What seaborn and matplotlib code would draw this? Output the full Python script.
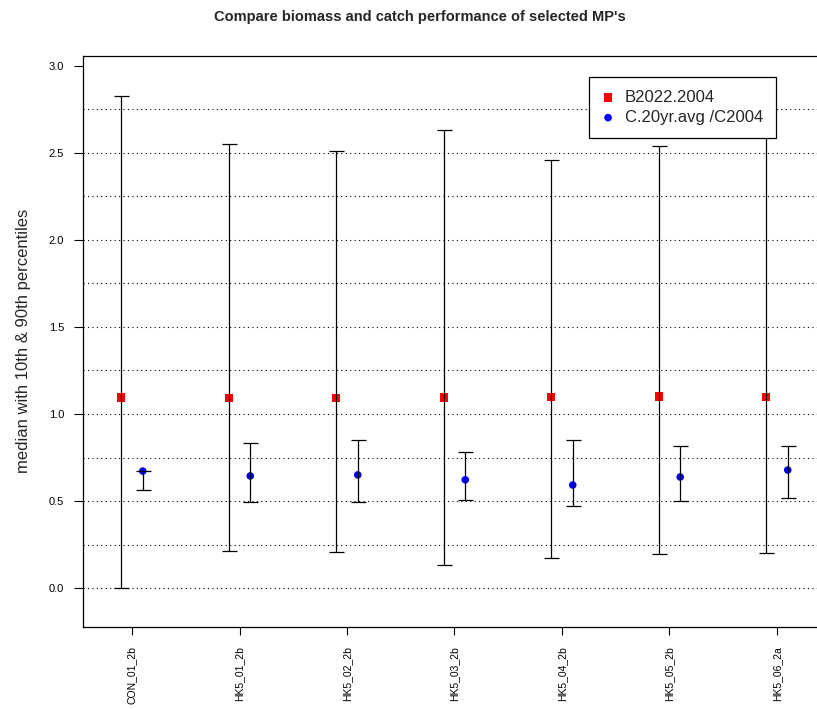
import numpy as np
import pandas as pd
import matplotlib
matplotlib.use("Agg")
import matplotlib.pyplot as plt
import seaborn as sns

# ---- data ----
mps = ["CON_01_2b", "HK5_01_2b", "HK5_02_2b", "HK5_03_2b", "HK5_04_2b", "HK5_05_2b", "HK5_06_2a"]

bio_med = [1.095, 1.093, 1.093, 1.095, 1.097, 1.100, 1.097]
bio_p10 = [0.00, 0.21, 0.205, 0.13, 0.17, 0.195, 0.20]
bio_p90 = [2.83, 2.55, 2.51, 2.63, 2.46, 2.54, 2.61]

cat_med = [0.672, 0.644, 0.650, 0.622, 0.592, 0.638, 0.678]
cat_p10 = [0.565, 0.495, 0.495, 0.504, 0.474, 0.498, 0.519]
cat_p90 = [0.675, 0.833, 0.850, 0.784, 0.853, 0.816, 0.816]

series_names = ["B2022.2004", "C.20yr.avg /C2004"]
title = "Compare biomass and catch performance of selected MP's"
ylabel = "median with 10th & 90th percentiles"

sns.set_theme(style="white")
plt.rcParams["font.family"] = ["Liberation Sans", "DejaVu Sans"]

idx = np.arange(1, len(mps) + 1)
df_b = pd.DataFrame({"pos": idx - 0.1, "med": bio_med, "lo": bio_p10, "hi": bio_p90, "series": series_names[0]})
df_c = pd.DataFrame({"pos": idx + 0.1, "med": cat_med, "lo": cat_p10, "hi": cat_p90, "series": series_names[1]})

fig = plt.figure(figsize=(8.17, 7.09), dpi=100)
ax = fig.add_axes([83 / 817, 1 - 627 / 709, (826 - 83) / 817, (627 - 55.7) / 709])

# grid lines
for g in np.arange(0, 3.0, 0.25):
    ax.axhline(g, color="black", lw=0.8, linestyle=(0, (1, 3)), zorder=0)

sns.scatterplot(data=df_b, x="pos", y="med", marker="s", s=36, color="#ff0000",
                edgecolor="none", linewidth=0, ax=ax, zorder=2, label=series_names[0])
sns.scatterplot(data=df_c, x="pos", y="med", marker="o", s=30, color="#0000ff",
                edgecolor="none", linewidth=0, ax=ax, zorder=2, label=series_names[1])

for d in (df_b, df_c):
    ax.errorbar(d["pos"], d["med"], yerr=[d["med"] - d["lo"], d["hi"] - d["med"]],
                fmt="none", ecolor="black", elinewidth=0.9, capsize=5.4, capthick=0.9, zorder=3)

ax.set_xlim(1 - 0.456, 7 + 0.456)
ax.set_ylim(-0.224, 3.059)
ax.set_xticks(idx)
ax.set_xticklabels(mps, rotation=90, fontsize=7.5)
ax.set_yticks(np.arange(0, 3.01, 0.5))
ax.set_yticklabels([f"{v:.1f}" for v in np.arange(0, 3.01, 0.5)], fontsize=8)
ax.tick_params(axis="y", direction="out", length=6.5, width=0.8, pad=7, colors="black", left=True)
ax.tick_params(axis="x", direction="out", length=6, width=0.8, pad=8, colors="black", bottom=True)
for sp in ax.spines.values():
    sp.set_color("black")
    sp.set_linewidth(0.9)
ax.set_xlabel("")
ax.set_ylabel(ylabel, fontsize=12, labelpad=13)
fig.suptitle(title, fontsize=10.5, fontweight="bold", x=420 / 817, y=1 - 10.5 / 709, va="top")

leg = ax.legend(loc="upper right", bbox_to_anchor=(776 / 817, 1 - 77 / 709),
                bbox_transform=fig.transFigure, borderaxespad=0, fontsize=12,
                frameon=True, fancybox=False, framealpha=1, edgecolor="black",
                handletextpad=0.65, labelspacing=0.3, borderpad=0.78, handlelength=0.7)
leg.get_frame().set_linewidth(0.9)
leg.set_zorder(5)

fig.savefig("out.png", dpi=100)
